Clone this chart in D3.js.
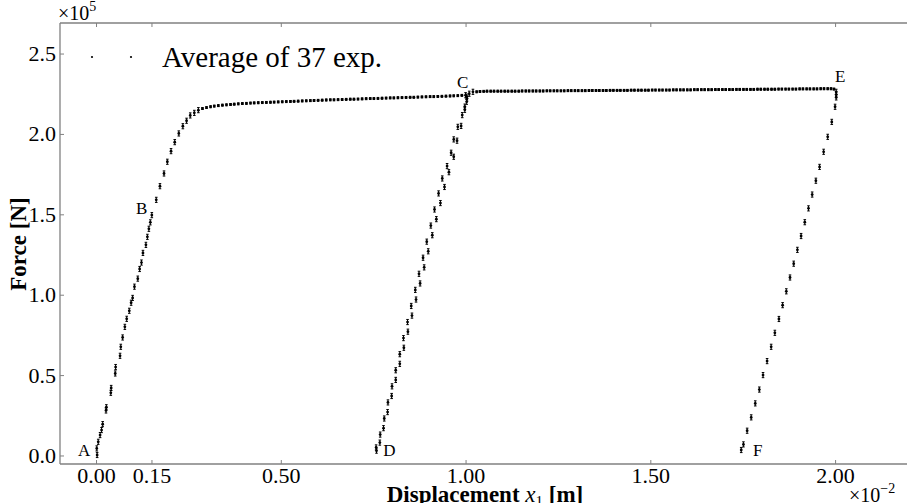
<!DOCTYPE html>
<html><head><meta charset="utf-8">
<script src="https://cdn.jsdelivr.net/npm/d3@7"></script>
<style>
html,body{margin:0;padding:0;background:#fff;}
svg{display:block;}
text{font-family:"Liberation Serif","DejaVu Serif",serif;fill:#000;}
</style></head>
<body><svg id="c" width="907" height="503"></svg>
<script>
// ---------- DATA (displacement in 1e-2 m, force in 1e5 N) ----------
// Loading A -> B -> knee
const loadX = [0.003,0.002,0.006,0.011,0.015,0.018,0.027,0.028,0.040,0.041,0.052,0.053,0.065,0.067,0.072,0.078,0.083,0.090,0.095,0.099,0.104,0.113,0.118,0.123,0.127,0.135,0.139,0.143,0.147,0.151,0.163,0.173,0.184,0.193,0.203,0.213,0.224,0.235,0.245,0.255,0.266,0.277];
const loadF = [0.003,0.044,0.085,0.127,0.158,0.195,0.280,0.300,0.390,0.420,0.510,0.550,0.620,0.676,0.734,0.800,0.850,0.900,0.950,0.980,1.050,1.100,1.160,1.200,1.260,1.310,1.360,1.410,1.450,1.495,1.590,1.675,1.754,1.827,1.893,1.949,2.003,2.048,2.082,2.115,2.131,2.148];
// Hardening plateau up to C
const plat1X = [0.288,0.299,0.310,0.320,0.331,0.342,0.353,0.364,0.374,0.385,0.396,0.407,0.418,0.428,0.439,0.450,0.461,0.472,0.482,0.493,0.504,0.515,0.526,0.536,0.547,0.558,0.569,0.580,0.590,0.601,0.612,0.623,0.634,0.644,0.655,0.666,0.677,0.688,0.698,0.709,0.720,0.731,0.742,0.752,0.763,0.774,0.785,0.796,0.806,0.817,0.828,0.839,0.850,0.860,0.871,0.882,0.893,0.904,0.914,0.925,0.936,0.947,0.958,0.968,0.979,0.990];
const plat1F = [2.158,2.164,2.169,2.173,2.176,2.179,2.181,2.183,2.185,2.187,2.189,2.190,2.192,2.193,2.194,2.195,2.196,2.197,2.198,2.199,2.200,2.201,2.202,2.203,2.204,2.205,2.206,2.207,2.208,2.209,2.210,2.211,2.212,2.212,2.213,2.214,2.215,2.216,2.216,2.217,2.218,2.219,2.220,2.220,2.221,2.222,2.223,2.224,2.224,2.225,2.226,2.227,2.228,2.228,2.229,2.230,2.231,2.232,2.232,2.233,2.234,2.235,2.236,2.237,2.238,2.240];
// Unloading C -> D
const unl1X = [1.000,1.003,1.003,0.998,0.988,0.977,0.968,0.955,0.943,0.932,0.921,0.910,0.899,0.888,0.877,0.866,0.855,0.844,0.833,0.822,0.811,0.800,0.789,0.778,0.768,0.758];
const unl1F = [2.241,2.232,2.200,2.150,2.050,1.958,1.858,1.762,1.670,1.570,1.470,1.370,1.270,1.170,1.070,0.970,0.870,0.770,0.670,0.570,0.470,0.370,0.270,0.170,0.080,0.050];
// Reloading D -> C
const rel1X = [0.759,0.769,0.780,0.790,0.801,0.811,0.822,0.832,0.843,0.853,0.864,0.874,0.885,0.895,0.906,0.916,0.927,0.937,0.950,0.961,0.968,0.979,0.991,0.998,1.004,1.010,1.020];
const rel1F = [0.030,0.130,0.230,0.330,0.430,0.530,0.630,0.730,0.830,0.930,1.030,1.130,1.230,1.330,1.430,1.530,1.630,1.723,1.800,1.883,1.966,2.044,2.117,2.170,2.220,2.250,2.262];
// Plateau C -> E
const plat2X = [1.030,1.039,1.049,1.058,1.068,1.077,1.087,1.096,1.106,1.115,
1.125,1.134,1.144,1.153,1.163,1.172,1.182,1.191,1.201,1.210,
1.220,1.229,1.239,1.248,1.258,1.267,1.277,1.286,1.296,1.305,
1.315,1.324,1.334,1.343,1.353,1.362,1.372,1.381,1.391,1.400,
1.410,1.419,1.429,1.438,1.448,1.457,1.467,1.476,1.486,1.495,
1.505,1.514,1.524,1.533,1.543,1.552,1.562,1.571,1.581,1.590,
1.600,1.609,1.619,1.628,1.638,1.647,1.657,1.666,1.676,1.685,
1.695,1.704,1.714,1.723,1.733,1.742,1.752,1.761,1.771,1.780,
1.790,1.799,1.809,1.818,1.828,1.837,1.847,1.856,1.866,1.875,
1.885,1.894,1.904,1.913,1.923,1.932,1.942,1.951,1.961,1.970,
1.980,1.989,1.997];
const plat2F = [2.262,2.264,2.265,2.266,2.266,2.266,2.266,2.266,2.266,2.266,
2.266,2.266,2.266,2.267,2.267,2.267,2.267,2.267,2.267,2.267,
2.268,2.268,2.268,2.268,2.268,2.268,2.269,2.269,2.269,2.269,
2.269,2.269,2.270,2.270,2.270,2.270,2.270,2.270,2.271,2.271,
2.271,2.271,2.271,2.271,2.272,2.272,2.272,2.272,2.272,2.272,
2.273,2.273,2.273,2.273,2.273,2.273,2.274,2.274,2.274,2.274,
2.274,2.274,2.275,2.275,2.275,2.275,2.275,2.275,2.276,2.276,
2.276,2.276,2.276,2.276,2.277,2.277,2.277,2.277,2.277,2.277,
2.278,2.278,2.278,2.278,2.278,2.278,2.279,2.279,2.279,2.279,
2.279,2.279,2.280,2.280,2.280,2.280,2.280,2.280,2.281,2.281,
2.281,2.281,2.279];
// Unloading E -> F
const unl2X = [2.003,2.003,2.003,2.000,1.991,1.980,1.969,1.958,1.948,1.938,1.928,1.918,1.908,1.898,1.888,1.878,1.868,1.858,1.848,1.837,1.827,1.816,1.805,1.795,1.784,1.773,1.762,1.752,1.746];
const unl2F = [2.262,2.245,2.227,2.169,2.075,1.982,1.889,1.795,1.709,1.623,1.537,1.451,1.365,1.279,1.193,1.107,1.021,0.935,0.849,0.763,0.676,0.587,0.500,0.410,0.324,0.237,0.154,0.069,0.034];
// Error bar half-heights per branch (1e5 N)
const errSteep = 0.016, errFlat = 0.006;

const xTicks = [0.00,0.15,0.50,1.00,1.50,2.00];
const yTicks = [0.0,0.5,1.0,1.5,2.0,2.5];
const pointLabels = ["A","B","C","D","E","F"];
const labelX = [-0.049,0.108,0.977,0.777,2.000,1.778];
const labelF = [-0.004,1.500,2.285,-0.004,2.322,-0.004];
const legendText = "Average of 37 exp.";

// ---------- CHART ----------
const svg = d3.select("#c");
const x = d3.scaleLinear().domain([-0.0975,2.2]).range([60,909]);
const y = d3.scaleLinear().domain([-0.053,2.69]).range([464,23]);
const spine = "#808080";

function pts(xs, fs, e){ return xs.map((v,i)=>({x:v,f:fs[i],e:e})); }
const data = [].concat(
  pts(loadX,loadF,errSteep), pts(plat1X,plat1F,errFlat),
  pts(unl1X,unl1F,errSteep), pts(rel1X,rel1F,errSteep),
  pts(plat2X,plat2F,errFlat), pts(unl2X,unl2F,errSteep));

// axes
const gl = svg.append("g").attr("transform","translate(60,0)")
  .call(d3.axisLeft(y).tickValues(yTicks).tickFormat(d3.format(".1f")).tickSize(-4).tickPadding(4));
const gb = svg.append("g").attr("transform","translate(0,464)")
  .call(d3.axisBottom(x).tickValues(xTicks).tickFormat(d3.format(".2f")).tickSize(-4).tickPadding(3));
const gt = svg.append("g").attr("transform","translate(0,23)")
  .call(d3.axisTop(x).tickValues(xTicks).tickFormat("").tickSize(-4));
[gl,gb,gt].forEach(g=>{
  g.select(".domain").attr("stroke",spine).attr("stroke-width",1.3);
  g.selectAll(".tick line").attr("stroke",spine).attr("stroke-width",1);
  g.selectAll(".tick text").attr("font-family","Liberation Serif").attr("font-size",22).attr("fill","#000");
});
gl.select(".domain").attr("d","M0,23V464");
gb.select(".domain").attr("d","M60,0H909");
gt.select(".domain").attr("d","M60,0H909");

// data marks: error bars + dots
const marks = svg.append("g");
const eb = marks.selectAll("g.pt").data(data).enter().append("g").attr("class","pt");
eb.append("path")
  .attr("d", d=>{
    const cx=x(d.x), y1=y(d.f+d.e), y2=y(d.f-d.e);
    return `M${cx},${y1}V${y2}M${cx-1.3},${y1}H${cx+1.3}M${cx-1.3},${y2}H${cx+1.3}`;
  })
  .attr("stroke","#000").attr("stroke-width",1).attr("fill","none");
eb.append("circle").attr("cx",d=>x(d.x)).attr("cy",d=>y(d.f)).attr("r",1.4).attr("fill","#000");

// point labels
svg.append("g").selectAll("text").data(pointLabels).enter().append("text")
  .attr("x",(d,i)=>x(labelX[i])).attr("y",(d,i)=>y(labelF[i]))
  .attr("font-size",17).text(d=>d);

// legend
svg.append("circle").attr("cx",92).attr("cy",57).attr("r",1.1).attr("fill","#000");
svg.append("circle").attr("cx",131).attr("cy",57).attr("r",1.1).attr("fill","#000");
svg.append("text").attr("x",162).attr("y",67).attr("font-size",29).text(legendText);

// axis titles
svg.append("text").attr("transform","translate(26,244) rotate(-90)")
  .attr("text-anchor","middle").attr("font-size",23).attr("font-weight","bold").text("Force [N]");
const xl = svg.append("text").attr("x",485).attr("y",502).attr("text-anchor","middle")
  .attr("font-size",23).attr("font-weight","bold");
xl.append("tspan").text("Displacement ");
xl.append("tspan").attr("font-style","italic").attr("font-weight","normal").text("x");
xl.append("tspan").attr("font-size",15).attr("font-weight","normal").attr("dy",4).text("1");
xl.append("tspan").attr("dy",-4).text(" [m]");

// offset multipliers
const o1 = svg.append("text").attr("x",58).attr("y",20).attr("font-size",20);
o1.append("tspan").text("×10");
o1.append("tspan").attr("font-size",14).attr("dy",-9).text("5");
const o2 = svg.append("text").attr("x",849).attr("y",502).attr("font-size",20);
o2.append("tspan").text("×10");
o2.append("tspan").attr("font-size",14).attr("dy",-9).text("−2");
</script></body></html>
